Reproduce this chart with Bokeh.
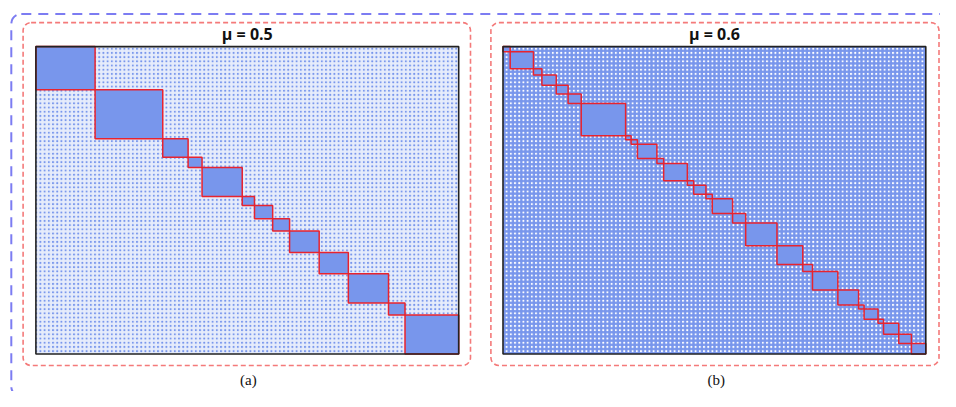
import numpy as np
from bokeh.plotting import figure
from bokeh.models import Range1d, ColumnDataSource
from bokeh.core.properties import value
from bokeh.embed import file_html
from bokeh.resources import INLINE

# ---------------- data ----------------
n_nodes = 1000
# community sizes along the diagonal (node counts)
sizes_a = [140, 160, 60, 33, 95, 29, 43, 40, 70, 69, 95, 39, 127]
sizes_b = [17, 55, 20, 34, 28, 31, 105, 13, 15, 46, 16, 56, 15, 29, 15, 48,
           31, 74, 61, 23, 60, 49, 13, 33, 13, 36, 30, 34]
titles = ["μ = 0.5", "μ = 0.6"]
labels = ["(a)", "(b)"]

# ---------------- style ----------------
BLUE = "#7896EC"
RED = "#E8232E"
SALMON = "#F47A7A"
LAVENDER = "#7C7CF2"

W, H = 940, 391
p = figure(width=W, height=H, x_range=Range1d(0, W), y_range=Range1d(H, 0),
           output_backend="svg", toolbar_location=None, min_border=0)
p.axis.visible = False
p.grid.visible = False
p.outline_line_color = None
p.background_fill_color = "white"
p.border_fill_color = "white"

# panel geometry in canvas pixels: frame (x0, x1, y0, y1), dashed box
panels = [
    dict(frame=(35.4, 458.2, 46.1, 353.5), box=(22.6, 470, 22.1, 365),
         label_x=247.8, base="#E6ECFB", dot=BLUE),
    dict(frame=(502.5, 925.3, 46.1, 353.5), box=(490.4, 938.5, 22.1, 365),
         label_x=715.8, base=BLUE, dot="white"),
]
sizes_all = [sizes_a, sizes_b]

xr, yr = {}, {}
for i, pan in enumerate(panels):
    fx0, fx1, fy0, fy1 = pan["frame"]
    sx = n_nodes / (fx1 - fx0)
    sy = n_nodes / (fy1 - fy0)
    xr[f"m{i}"] = Range1d(-fx0 * sx, (W - fx0) * sx)
    yr[f"m{i}"] = Range1d((H - fy0) * sy, -fy0 * sy)
p.extra_x_ranges = xr
p.extra_y_ranges = yr

# outer lavender dashed bracket
p.quad(left=10.8, right=1200, top=13.4, bottom=396, fill_color=None,
       line_color=LAVENDER, line_width=2, line_dash="10 7", border_radius=10)

for i, pan in enumerate(panels):
    name = f"m{i}"
    sizes = sizes_all[i]
    bx0, bx1, by0, by1 = pan["box"]
    p.quad(left=bx0, right=bx1, top=by0, bottom=by1, fill_color=None,
           line_color=SALMON, line_width=1.6, line_dash="5 3", border_radius=8)

    # adjacency background texture
    p.quad(left=0, right=n_nodes, top=0, bottom=n_nodes, line_color=None,
           fill_color=pan["base"], hatch_pattern="dot", hatch_color=pan["dot"],
           hatch_scale=4.2, hatch_weight=1,
           x_range_name=name, y_range_name=name)

    edges = np.concatenate([[0], np.cumsum(sizes)])
    src = ColumnDataSource(dict(l=edges[:-1], r=edges[1:]))
    p.quad(left="l", right="r", top="l", bottom="r", source=src,
           x_range_name=name, y_range_name=name,
           fill_color=BLUE, line_color=RED, line_width=1.5)

    # frame
    p.quad(left=0, right=n_nodes, top=0, bottom=n_nodes, fill_color=None,
           line_color="#222222", line_width=1.6,
           x_range_name=name, y_range_name=name)

    p.text(x=[n_nodes / 2], y=[33.6], text=[titles[i]], x_range_name=name,
           text_align="center", text_baseline="middle",
           text_font=value("Open Sans"), text_font_style="bold",
           text_font_size="16px", text_color="#111111")
    p.text(x=[pan["label_x"]], y=[379.5], text=[labels[i]],
           text_align="center", text_baseline="middle",
           text_font=value("Liberation Serif"), text_font_size="15px",
           text_color="#111111")

open("out.html", "w").write(file_html(p, INLINE))
